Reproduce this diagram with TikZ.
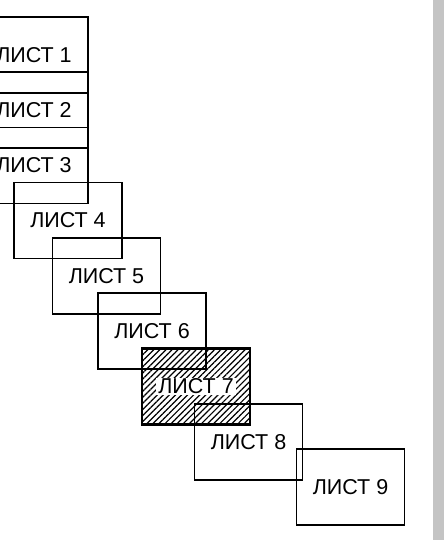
\documentclass[tikz,border=0pt]{standalone}
\usepackage{fontspec}
\setmainfont{Liberation Sans}
\usetikzlibrary{patterns.meta}
\definecolor{barGray}{RGB}{196,196,196}

\begin{document}
\begin{tikzpicture}[x=1pt,y=-1pt,
    sheet/.style={draw, line width=1.3pt, minimum width=108pt, minimum height=76pt,
        inner sep=0pt, font=\fontsize{21.5}{25}\selectfont},
    hatched/.style={line width=2.4pt, pattern={Lines[angle=45,distance=4.3pt,line width=1.2pt]}}]
    % Fix the frame
    \useasboundingbox (0,0) rectangle (446,540);
    \clip (0,0) rectangle (446,540);

    % Draw the gray bar on the right
    \fill[barGray] (433,0) rectangle (444,540);

    % Draw the sheets
    \node[sheet] (list1) at (34,55) {ЛИСТ 1};
    \node[sheet] (list2) at (34,110) {ЛИСТ 2};
    \node[sheet] (list3) at (34,165.5) {ЛИСТ 3};
    \node[sheet] (list4) at (68,220.5) {ЛИСТ 4};
    \node[sheet] (list5) at (106.5,276) {ЛИСТ 5};
    \node[sheet] (list6) at (152,331) {ЛИСТ 6};
    \node[sheet, hatched] (list7) at (196,386.5) {};
    \node[fill=white, inner xsep=2pt, inner ysep=1pt, font=\fontsize{21.5}{25}\selectfont] (label7) at (list7) {ЛИСТ 7};
    \node[sheet] (list8) at (248.5,442) {ЛИСТ 8};
    \node[sheet] (list9) at (350.5,487) {ЛИСТ 9};
\end{tikzpicture}
\end{document}
